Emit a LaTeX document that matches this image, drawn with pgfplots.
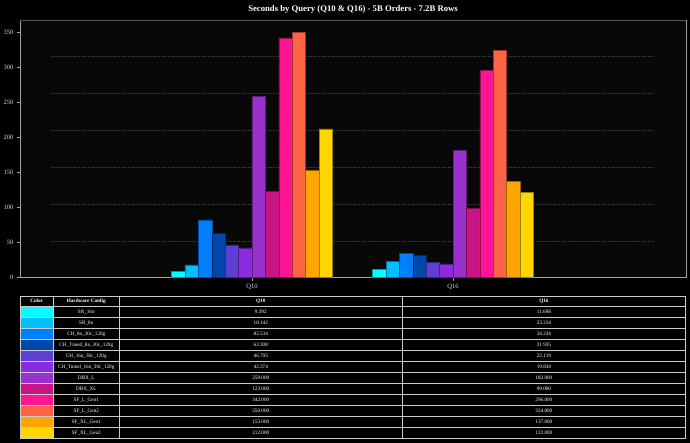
\documentclass[border=0pt]{standalone}
\usepackage{fontspec}
\setmainfont{Liberation Serif}
\usepackage{pgfplots}
\pgfplotsset{compat=1.18}

\definecolor{c1}{HTML}{00FFFF}
\definecolor{c2}{HTML}{00BFFF}
\definecolor{c3}{HTML}{007FFF}
\definecolor{c4}{HTML}{0047AB}
\definecolor{c5}{HTML}{5D3FD3}
\definecolor{c6}{HTML}{8A2BE2}
\definecolor{c7}{HTML}{9932CC}
\definecolor{c8}{HTML}{C71585}
\definecolor{c9}{HTML}{FF1493}
\definecolor{c10}{HTML}{FF6347}
\definecolor{c11}{HTML}{FFA500}
\definecolor{c12}{HTML}{FFD700}
\definecolor{frame}{HTML}{A0A0A0}
\definecolor{frametop}{HTML}{555555}
\definecolor{gridc}{HTML}{3A3A3A}
\definecolor{panel}{HTML}{080808}

\tikzset{
  hw/.style={fill=#1, draw=#1!60!black, line width=0.5bp},
  guide/.style={gridc, line width=0.6bp, dash pattern=on 1.5bp off 1bp},
  cell/.style={text=white, anchor=base, inner sep=0pt, font=\fontsize{5.2}{6}\selectfont},
}

\begin{document}
\begin{tikzpicture}[x=1bp,y=1bp]
\fill[black] (0,0) rectangle (690,443);

\begin{axis}[
    at={(20bp,165.3bp)}, anchor=south west,
    scale only axis,
    width=666bp, height=257.7bp,
    xmin=-1.154, xmax=2.159,
    ymin=0, ymax=367.4,
    axis background/.style={fill=panel},
    axis line style={frame, line width=0.8bp},
    clip=false,
    ybar, bar width=0.06667,
    xtick={0,1}, xticklabels={Q10,Q16},
    ytick={0,50,...,350},
    tick pos=left, tick align=outside,
    major tick length=3bp,
    tick style={frame, line width=0.6bp},
    ticklabel style={font=\fontsize{6.6}{8}\selectfont, text=white!85!black},
    /pgf/number format/assume math mode=true,
]
  % dashed guide lines
  \draw[guide] (axis cs:-1,52.5) -- (axis cs:2,52.5);
  \draw[guide] (axis cs:-1,105) -- (axis cs:2,105);
  \draw[guide] (axis cs:-1,157.5) -- (axis cs:2,157.5);
  \draw[guide] (axis cs:-1,210) -- (axis cs:2,210);
  \draw[guide] (axis cs:-1,262.5) -- (axis cs:2,262.5);
  \draw[guide] (axis cs:-1,315) -- (axis cs:2,315);

  \addplot[hw=c1,  bar shift=-0.36667] coordinates {(0,9.392) (1,11.698)};
  \addplot[hw=c2,  bar shift=-0.30000] coordinates {(0,18.142) (1,23.214)};
  \addplot[hw=c3,  bar shift=-0.23333] coordinates {(0,82.534) (1,34.234)};
  \addplot[hw=c4,  bar shift=-0.16667] coordinates {(0,63.308) (1,31.935)};
  \addplot[hw=c5,  bar shift=-0.10000] coordinates {(0,46.705) (1,22.119)};
  \addplot[hw=c6,  bar shift=-0.03333] coordinates {(0,42.374) (1,19.834)};
  \addplot[hw=c7,  bar shift=0.03333]  coordinates {(0,259) (1,182)};
  \addplot[hw=c8,  bar shift=0.10000]  coordinates {(0,123) (1,99)};
  \addplot[hw=c9,  bar shift=0.16667]  coordinates {(0,342) (1,296)};
  \addplot[hw=c10, bar shift=0.23333]  coordinates {(0,350) (1,324)};
  \addplot[hw=c11, bar shift=0.30000]  coordinates {(0,153) (1,137)};
  \addplot[hw=c12, bar shift=0.36667]  coordinates {(0,212) (1,122)};

  % darker top spine
  \draw[frametop, line width=0.9bp] (rel axis cs:0,1) -- (rel axis cs:1,1);
\end{axis}

% title
\node[text=white, font=\fontsize{8.7}{10}\selectfont\bfseries] at (353,434)
  {Seconds by Query (Q10 \& Q16) - 5B Orders - 7.2B Rows};

% table below the chart
\foreach \n/\c/\a/\b [count=\i] in {
    SR\_16n/c1/9.392/11.698,
    SR\_8n/c2/18.142/23.214,
    CH\_8n\_30c\_120g/c3/82.534/34.234,
    CH\_Tuned\_8n\_30c\_120g/c4/63.308/31.935,
    CH\_16n\_30c\_120g/c5/46.705/22.119,
    CH\_Tuned\_16n\_30c\_120g/c6/42.374/19.834,
    DBX\_L/c7/259.000/182.000,
    DBX\_XL/c8/123.000/99.000,
    SF\_L\_Gen1/c9/342.000/296.000,
    SF\_L\_Gen2/c10/350.000/324.000,
    SF\_XL\_Gen1/c11/153.000/137.000,
    SF\_XL\_Gen2/c12/212.000/122.000} {
  \fill[\c] (20,148-11*\i) rectangle (53.3,137-11*\i);
  \node[cell] at (86.3,140.8-11*\i) {\n};
  \node[cell] at (260.8,140.8-11*\i) {\a};
  \node[cell] at (543.9,140.8-11*\i) {\b};
}
\foreach \x/\t in {36.6/Color, 86.3/Hardware Config, 260.8/Q10, 543.9/Q16}
  \node[cell, font=\fontsize{5.2}{6}\selectfont\bfseries] at (\x,140.3) {\t};
\begin{scope}[white!80!black, line width=0.8bp]
  \draw (20,147) rectangle (685.5,5);
  \foreach \y in {137,126,...,16} \draw (20,\y) -- (685.5,\y);
  \foreach \x in {53.3,119.3,402.3} \draw (\x,147) -- (\x,5);
\end{scope}
\end{tikzpicture}
\end{document}
